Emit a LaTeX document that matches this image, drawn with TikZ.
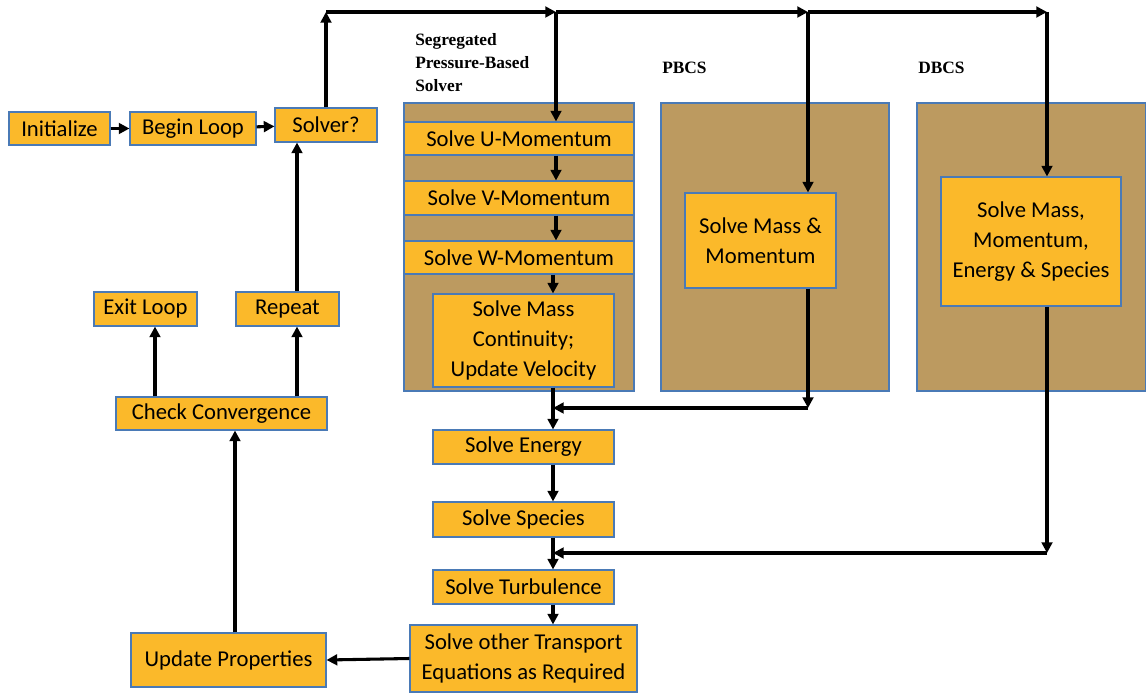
\documentclass[tikz,border=0pt]{standalone}
\usepackage{fontspec}
\setmainfont{Carlito}
\newfontfamily\serifbf{Liberation Serif}
\usetikzlibrary{arrows.meta}
\definecolor{boxfill}{RGB}{251,185,42}
\definecolor{panelfill}{RGB}{188,154,96}
\definecolor{boxline}{RGB}{74,122,182}
\tikzset{
  box/.style={draw=boxline, line width=0.8pt, fill=boxfill, inner sep=0pt, align=center,
    font=\fontsize{17}{22.5}\selectfont, text=black},
  panel/.style={draw=boxline, line width=0.8pt, fill=panelfill, inner sep=0pt},
  arr/.style={line width=2.3pt, -{Triangle[length=8pt,width=8pt]}},
  ln/.style={line width=2.3pt},
  lbl/.style={font=\serifbf\bfseries\fontsize{13}{17.5}\selectfont, align=left, anchor=north west, inner sep=0pt}
}
\newcommand\mybox[7][box]{\node[#1, minimum width={(#5-#3)*0.75pt}, minimum height={(#6-#4)*0.75pt}] (#2) at ({(#3+#5)/2},{(#4+#6)/2}) {#7};}
\begin{document}
\begin{tikzpicture}[x=0.75pt,y=-0.75pt]
\useasboundingbox (0,0) rectangle (1146,695);
% panels
\mybox[panel]{pseg}{404}{103}{634}{391}{}
\mybox[panel]{ppb}{661}{103}{889}{391}{}
\mybox[panel]{pdb}{917}{103}{1146}{391}{}
% labels
\node[lbl] (lseg) at (415,33) {Segregated\\Pressure-Based\\Solver};
\node[lbl] (lpb) at (662,62) {PBCS};
\node[lbl] (ldb) at (918,62) {DBCS};
% boxes
\mybox{init}{9}{112}{110}{145}{Initialize}
\mybox{begin}{130}{112}{256}{145}{Begin Loop}
\mybox{solver}{275}{108}{377}{142}{Solver?}
\mybox{exit}{94}{292}{197}{326}{Exit Loop}
\mybox{repeat}{236}{292}{339}{326}{Repeat}
\mybox{check}{116}{397}{327}{430}{Check Convergence}
\mybox{update}{131}{633}{326}{687}{Update Properties}
\mybox{u}{404}{122}{634}{155}{Solve U-Momentum}
\mybox{v}{404}{181}{634}{215}{Solve V-Momentum}
\mybox{w}{404}{241}{634}{274}{Solve W-Momentum}
\mybox{mass}{433}{294}{614}{387}{Solve Mass\\Continuity;\\Update Velocity}
\mybox{energy}{433}{430}{614}{464}{Solve Energy}
\mybox{species}{433}{502}{614}{537}{Solve Species}
\mybox{turb}{433}{570}{614}{604}{Solve Turbulence}
\mybox{other}{410}{625}{637}{692}{Solve other Transport\\Equations as Required}
\mybox{pm}{685}{193}{836}{288}{Solve Mass \&\\Momentum}
\mybox{dm}{941}{177}{1121}{306}{Solve Mass,\\Momentum,\\Energy \& Species}
% coordinates
\coordinate (t0) at (326,12);
\coordinate (t1) at (556,12);
\coordinate (t2) at (808,12);
\coordinate (t3) at (1047,12);
\coordinate (c) at (553,0);
\coordinate (j1) at (553,408);
\coordinate (j2) at (553,553);
\coordinate (xu) at (235,0);
\coordinate (xe) at (155,0);
\coordinate (xr) at (297,0);
% connectors
\draw[arr] (init) -- (begin);
\draw[arr] (begin) -- (solver);
\draw[arr] (solver.north -| t0) -- (t0);
\draw[arr] (t0) -- (t1);
\draw[arr] (t1) -- (t2);
\draw[arr] (t2) -- (t3);
\draw[arr] (t1) -- (t1 |- u.north);
\draw[arr] (t2) -- (t2 |- pm.north);
\draw[arr] (t3) -- (t3 |- dm.north);
\draw[arr] (t1 |- u.south) -- (t1 |- v.north);
\draw[arr] (t1 |- v.south) -- (t1 |- w.north);
\draw[arr] (c |- w.south) -- (c |- mass.north);
\draw[arr] (c |- mass.south) -- (c |- energy.north);
\draw[arr] (t2 |- pm.south) -- (t2 |- j1);
\draw[arr] (t2 |- j1) -- (j1);
\draw[arr] (c |- energy.south) -- (c |- species.north);
\draw[arr] (c |- species.south) -- (c |- turb.north);
\draw[arr] (t3 |- dm.south) -- (t3 |- j2);
\draw[arr] (t3 |- j2) -- (j2);
\draw[arr] (c |- turb.south) -- (c |- other.north);
\draw[arr] (other.west) -- (update.east);
\draw[arr] (xu |- update.north) -- (xu |- check.south);
\draw[arr] (xe |- check.north) -- (xe |- exit.south);
\draw[arr] (xr |- check.north) -- (xr |- repeat.south);
\draw[arr] (xr |- repeat.north) -- (xr |- solver.south);
\end{tikzpicture}
\end{document}
